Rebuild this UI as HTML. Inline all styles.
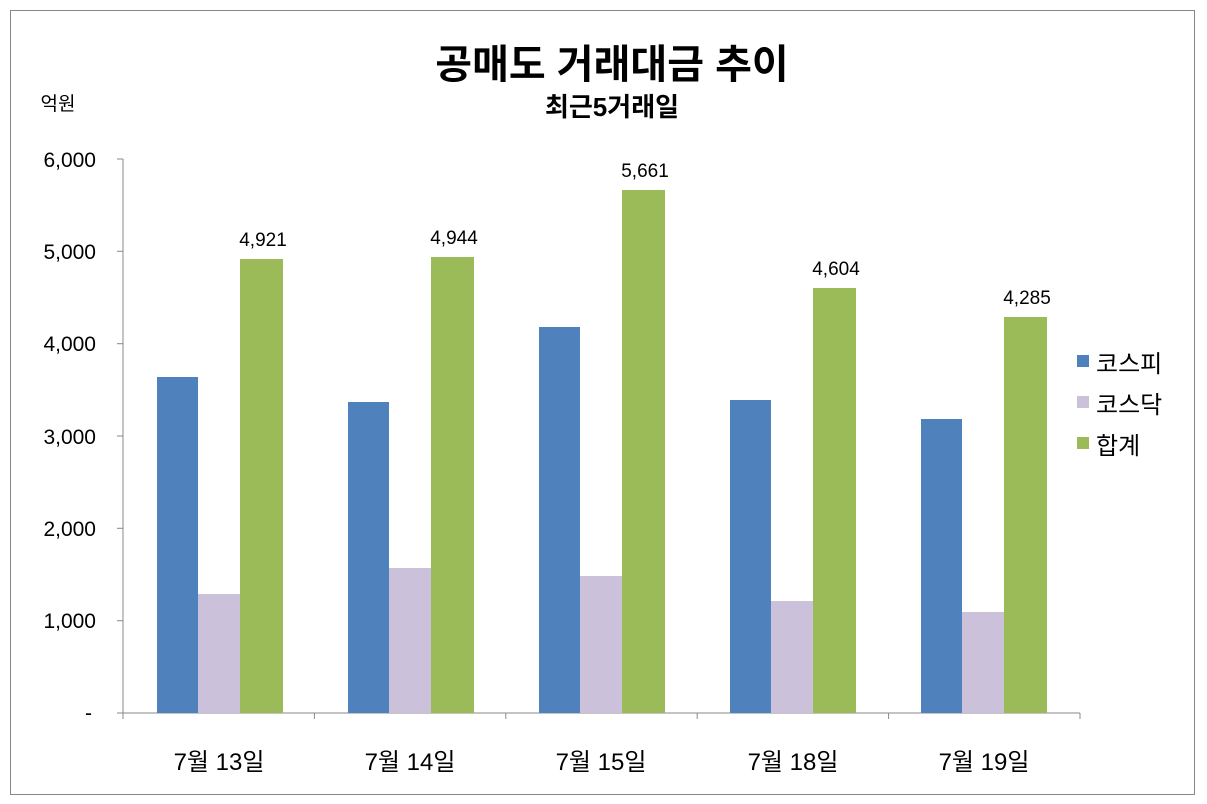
<!DOCTYPE html>
<html><head><meta charset="utf-8"><style>
html,body{margin:0;padding:0;background:#fff;}
svg{display:block;font-family:"Liberation Sans","Noto Sans CJK KR",sans-serif;}
</style></head><body>
<svg width="1207" height="804" viewBox="0 0 1207 804" xmlns="http://www.w3.org/2000/svg">
<rect x="0" y="0" width="1207" height="804" fill="#fff"/>
<rect x="10.5" y="10.5" width="1184" height="784" fill="none" stroke="#888" stroke-width="1"/>
<text x="612" y="78" font-size="40" font-weight="bold" text-anchor="middle" fill="#000">공매도 거래대금 추이</text>
<text x="612" y="116" font-size="26" font-weight="bold" text-anchor="middle" fill="#000">최근5거래일</text>
<text x="58" y="110" font-size="19" text-anchor="middle" fill="#000">억원</text>
<!-- axes -->
<line x1="123" y1="159" x2="123" y2="713" stroke="#888"/>
<line x1="123" y1="713" x2="1080" y2="713" stroke="#888"/>
<g stroke="#888">
<line x1="117" y1="159" x2="123" y2="159"/><line x1="117" y1="251.3" x2="123" y2="251.3"/>
<line x1="117" y1="343.7" x2="123" y2="343.7"/><line x1="117" y1="436" x2="123" y2="436"/>
<line x1="117" y1="528.3" x2="123" y2="528.3"/><line x1="117" y1="620.7" x2="123" y2="620.7"/>
<line x1="117" y1="713" x2="123" y2="713"/>
<line x1="123" y1="713" x2="123" y2="719"/><line x1="314.4" y1="713" x2="314.4" y2="719"/>
<line x1="505.8" y1="713" x2="505.8" y2="719"/><line x1="697.2" y1="713" x2="697.2" y2="719"/>
<line x1="888.6" y1="713" x2="888.6" y2="719"/><line x1="1080" y1="713" x2="1080" y2="719"/>
</g>
<g font-size="21" text-anchor="end" fill="#000">
<text x="96" y="167">6,000</text><text x="96" y="259">5,000</text><text x="96" y="351">4,000</text>
<text x="96" y="444">3,000</text><text x="96" y="536">2,000</text><text x="96" y="628">1,000</text>
<text x="92" y="720">-</text>
</g>
<g font-size="24" text-anchor="middle" fill="#000">
<text x="219" y="770">7월 13일</text><text x="410" y="770">7월 14일</text><text x="601" y="770">7월 15일</text>
<text x="793" y="770">7월 18일</text><text x="984" y="770">7월 19일</text>
</g>
<!-- bars -->
<g fill="#4F81BD">
<rect x="157" y="377" width="41" height="336"/><rect x="348" y="402" width="41" height="311"/>
<rect x="539" y="327" width="41" height="386"/><rect x="730" y="400" width="41" height="313"/>
<rect x="921" y="419" width="41" height="294"/>
</g>
<g fill="#CCC1DA">
<rect x="198" y="594" width="42" height="119"/><rect x="389" y="568" width="42" height="145"/>
<rect x="580" y="576" width="42" height="137"/><rect x="771" y="601" width="42" height="112"/>
<rect x="962" y="612" width="42" height="101"/>
</g>
<g fill="#9BBB59">
<rect x="240" y="259" width="43" height="454"/><rect x="431" y="257" width="43" height="456"/>
<rect x="622" y="190" width="43" height="523"/><rect x="813" y="288" width="43" height="425"/>
<rect x="1004" y="317" width="43" height="396"/>
</g>
<g font-size="19" text-anchor="middle" fill="#000">
<text x="263" y="246">4,921</text><text x="454" y="244">4,944</text><text x="645" y="177">5,661</text>
<text x="836" y="275">4,604</text><text x="1027" y="304">4,285</text>
</g>
<!-- legend -->
<rect x="1077" y="355" width="12" height="12" fill="#4F81BD"/>
<rect x="1077" y="396" width="12" height="12" fill="#CCC1DA"/>
<rect x="1077" y="437" width="12" height="12" fill="#9BBB59"/>
<g font-size="24" fill="#000">
<text x="1096" y="372">코스피</text><text x="1096" y="413">코스닥</text><text x="1096" y="454">합계</text>
</g>
</svg>
</body></html>
